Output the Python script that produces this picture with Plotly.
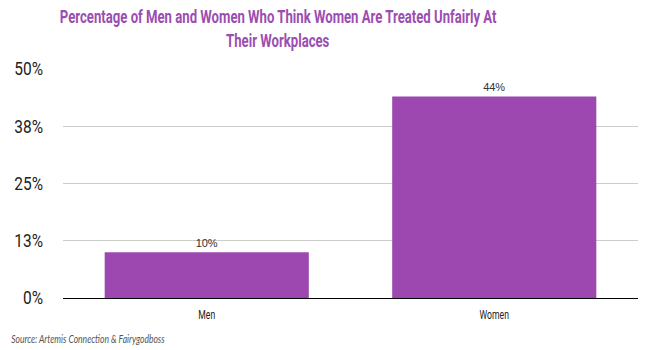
import plotly.graph_objects as go

categories = ["Men", "Women"]
values = [0.10, 0.44]
value_labels = ["10%", "44%"]
tick_vals = [0, 0.125, 0.25, 0.375, 0.5]
tick_text = ["0%", "13%", "25%", "38%", "50%"]
title_lines = ["Percentage of Men and Women Who Think Women Are Treated Unfairly At",
               "Their Workplaces"]
source_text = "Source: Artemis Connection & Fairygodboss"

purple = "#9C48B0"
font = "Roboto, sans-serif"

fig = go.Figure(go.Bar(
    x=categories, y=values,
    marker=dict(color=purple, line=dict(width=0)),
    text=value_labels, textposition="outside",
    textfont=dict(family="Liberation Sans, Arial, sans-serif", size=11, color="#333333"),
    cliponaxis=False,
))

W, H = 655, 350
L, R, T, B = 63, 17, 69, 52
pw, ph = W - L - R, H - T - B

def px(xp):
    return (xp - L) / pw

def py(yp):
    return (H - B - yp) / ph

fig.update_layout(
    width=W, height=H,
    margin=dict(l=L, r=R, t=T, b=B, autoexpand=False),
    paper_bgcolor="white", plot_bgcolor="white",
    bargap=0.29,
    showlegend=False,
    yaxis=dict(
        range=[0, 0.5], tickvals=tick_vals, ticktext=tick_text,
        showgrid=True, gridcolor="#CCCCCC", gridwidth=1,
        zeroline=True, zerolinecolor="#000000", zerolinewidth=1,
        tickfont=dict(family=font, size=18, color="#222222"),
        ticks="", ticklabelstandoff=19, automargin=False,
    ),
    xaxis=dict(
        tickfont=dict(family=font, size=12, color="#222222"),
        showline=False, ticks="", ticklabelstandoff=8, automargin=False,
    ),
    annotations=[
        dict(text="<b>" + title_lines[0] + "</b>", x=px(278), y=py(16),
             xref="paper", yref="paper", xanchor="center", yanchor="middle",
             showarrow=False, font=dict(family=font, size=18, color="#9B4DB1")),
        dict(text="<b>" + title_lines[1] + "</b>", x=px(278), y=py(41),
             xref="paper", yref="paper", xanchor="center", yanchor="middle",
             showarrow=False, font=dict(family=font, size=18, color="#9B4DB1")),
        dict(text="<i>" + source_text.replace("&", "&amp;") + "</i>", x=px(9), y=py(338),
             xref="paper", yref="paper", xanchor="left", yanchor="middle",
             showarrow=False, font=dict(family="Lato, Roboto, sans-serif", size=12, color="#555555")),
    ],
)

# Condense texts horizontally to mimic the narrow typeface of the reference
post = """
(function(){
  function squeeze(el, s, anchor){
    var bb = el.getBBox();
    var cx = anchor==='left' ? bb.x : (anchor==='right' ? bb.x + bb.width : bb.x + bb.width/2);
    var tr = el.getAttribute('transform') || '';
    el.setAttribute('transform', tr + ' matrix(' + s + ',0,0,1,' + (cx*(1-s)) + ',0)');
  }
  var texts = Array.prototype.slice.call(document.querySelectorAll('.annotation-text'));
  var t1 = texts.filter(function(e){return (e.textContent||'').indexOf('Percentage')===0;})[0];
  var t2 = texts.filter(function(e){return (e.textContent||'').indexOf('Their')===0;})[0];
  var src = texts.filter(function(e){return (e.textContent||'').indexOf('Source')===0;})[0];
  if(t1){
    var s = 437 / t1.getBBox().width;
    squeeze(t1, s, 'center');
    if(t2) squeeze(t2, s, 'center');
  }
  if(src){ squeeze(src, 154 / src.getBBox().width, 'left'); }
  document.querySelectorAll('.xtick text').forEach(function(el){ squeeze(el, 0.72, 'center'); });
  document.querySelectorAll('.ytick text').forEach(function(el){ squeeze(el, 0.86, 'right'); });
})();
"""

fig.write_html("out.html", post_script=post)
